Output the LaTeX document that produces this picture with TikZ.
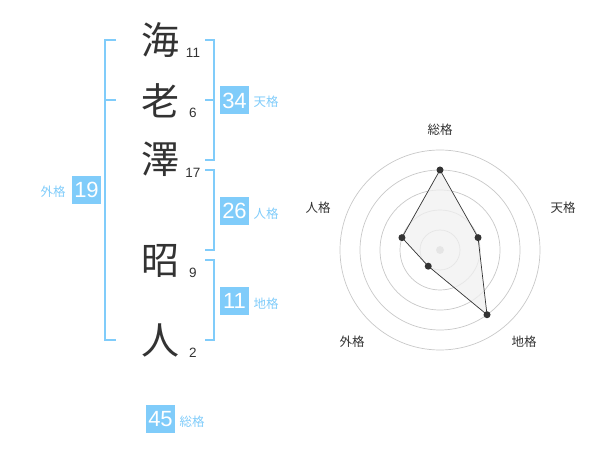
\documentclass[tikz,border=0pt]{standalone}
\usepackage{fontspec}
\setmainfont{Liberation Sans}
\newfontfamily\jpfont{Noto Sans CJK JP}
\definecolor{kblue}{RGB}{128,204,250}
\definecolor{ktext}{RGB}{51,51,51}
\definecolor{kring}{RGB}{200,200,200}
\definecolor{kfill}{RGB}{240,240,240}
\begin{document}
\begin{tikzpicture}[x=1pt,y=-1pt,
  bigchar/.style={font=\jpfont\fontsize{38}{38}\selectfont, text=ktext, inner sep=0pt},
  stroke/.style={font=\fontsize{13.5}{13.5}\selectfont, text=ktext, inner sep=0pt},
  valbox/.style={fill=kblue, text=white, minimum width=29pt, minimum height=28pt, inner sep=0pt, font=\fontsize{22}{22}\selectfont},
  kaku/.style={font=\jpfont\fontsize{12.5}{12.5}\selectfont, text=kblue, inner sep=0pt},
  rlabel/.style={font=\jpfont\fontsize{12.5}{12.5}\selectfont, text=ktext, inner sep=0pt},
  bracket/.style={draw=kblue, line width=2pt},
  ring/.style={draw=kring, line width=0.7pt},
  dot/.style={circle, fill=ktext, minimum size=7pt, inner sep=0pt}
]
\useasboundingbox (0,0) rectangle (600,470);

% big characters
\node[bigchar] (c1) at (160,40) {海};
\node[bigchar] (c2) at (160,101) {老};
\node[bigchar] (c3) at (160,159) {澤};
\node[bigchar] (c4) at (160,261) {昭};
\node[bigchar] (c5) at (160,340) {人};
\node[stroke] (s1) at (193,53) {11};
\node[stroke] (s2) at (193,113) {6};
\node[stroke] (s3) at (193,173) {17};
\node[stroke] (s4) at (193,273) {9};
\node[stroke] (s5) at (193,353) {2};

% brackets
\draw[bracket] (116,40) -- (105,40) -- (105,340) -- (116,340);
\draw[bracket] (105,100) -- (116,100);
\draw[bracket] (205,40) -- (214,40) -- (214,160) -- (205,160);
\draw[bracket] (205,100) -- (214,100);
\draw[bracket] (205,170) -- (214,170) -- (214,250) -- (205,250);
\draw[bracket] (205,260) -- (214,260) -- (214,340) -- (205,340);

% value boxes and labels
\node[valbox] (ten) at (234.5,100.5) {34};
\node[kaku] (tenl) at (266,102) {天格};
\node[valbox] (jin) at (234.5,211) {26};
\node[kaku] (jinl) at (266,214) {人格};
\node[valbox] (chi) at (234.5,301) {11};
\node[kaku] (chil) at (266,304) {地格};
\node[valbox] (gai) at (86.5,190) {19};
\node[kaku] (gail) at (53,192) {外格};
\node[valbox] (so) at (160.5,419) {45};
\node[kaku] (sol) at (192,422) {総格};

% radar chart
\coordinate (ctr) at (440,250);
\foreach \r in {20,40,60,80,100} \draw[ring] (ctr) circle[radius=\r];
\fill[kring] (ctr) circle[radius=4];
\coordinate (pso) at (440,170);
\coordinate (pten) at (478.04,237.64);
\coordinate (pchi) at (487.02,314.72);
\coordinate (pgai) at (428.24,266.18);
\coordinate (pjin) at (401.96,237.64);
\draw[fill=kfill, fill opacity=0.75, draw=ktext, line width=0.7pt] (pso) -- (pten) -- (pchi) -- (pgai) -- (pjin) -- cycle;
\foreach \p in {pso,pten,pchi,pgai,pjin} \node[dot] at (\p) {};
\node[rlabel] (rso) at (440,130) {総格};
\node[rlabel] (rten) at (563,208) {天格};
\node[rlabel] (rchi) at (524,342) {地格};
\node[rlabel] (rgai) at (352,342) {外格};
\node[rlabel] (rjin) at (318,208) {人格};
\end{tikzpicture}
\end{document}
